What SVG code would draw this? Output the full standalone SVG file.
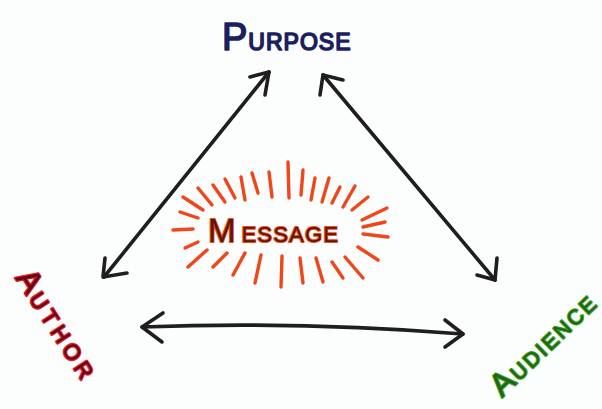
<svg xmlns="http://www.w3.org/2000/svg" width="602" height="409" viewBox="0 0 602 409">
  <defs>
    <style>
      .lbl { font-family: "Liberation Sans", Arial, sans-serif; font-weight: normal; paint-order: stroke; stroke-linejoin: round; }
      .purpose { fill: #1a1f5e; stroke: #1f2568; stroke-width: 1.6; }
      .author { fill: #5e0810; stroke: #e3182c; stroke-width: 2.6; }
      .audience { fill: #1f6412; stroke: #3b9d25; stroke-width: 2.2; }
      .message { fill: #5a1808; stroke: #ee4a18; stroke-width: 2; }
      .conn { fill: none; stroke: #1e1e1e; stroke-width: 3.6; stroke-linecap: round; stroke-linejoin: round; }
      .ray { stroke: #f0461a; stroke-width: 3.4; stroke-linecap: round; }
    </style>
  </defs>
  <rect width="602" height="409" fill="#fcfdfd"/>

  <g id="connectors">
    <path class="conn" d="M104,277 L269,72"/>
    <path class="conn" d="M250,77 L269,72 L265,95"/>
    <path class="conn" d="M105,258 L103,277 L127,273"/>
    <path class="conn" d="M323,75 L495,280"/>
    <path class="conn" d="M343,80 L323,75 L320,95"/>
    <path class="conn" d="M497,258 L495,280 L477,275"/>
    <path class="conn" d="M142,327 Q300,321 463,334"/>
    <path class="conn" d="M163,313 L142,327 L162,342"/>
    <path class="conn" d="M445,320 L463,334 L445,347"/>
  </g>

  <g id="purpose">
    <text class="lbl purpose" x="222" y="50"><tspan font-size="38">P</tspan><tspan font-size="23" dx="1" letter-spacing="1">URPOSE</tspan></text>
  </g>

  <g id="author" transform="translate(15,278) rotate(57)">
    <text class="lbl author" x="0" y="0"><tspan font-size="32" letter-spacing="3">A</tspan><tspan font-size="22" letter-spacing="5">UTHOR</tspan></text>
  </g>

  <g id="audience" transform="translate(502,398) rotate(-44)">
    <text class="lbl audience" x="0" y="0"><tspan font-size="32" letter-spacing="2">A</tspan><tspan font-size="21" letter-spacing="2.5">UDIENCE</tspan></text>
  </g>

  <g id="message">
    <g class="ray">
      <line x1="173" y1="230" x2="193" y2="229"/>
      <line x1="180" y1="212" x2="198" y2="218"/>
      <line x1="183" y1="197" x2="203" y2="210"/>
      <line x1="198" y1="188" x2="212" y2="205"/>
      <line x1="213" y1="185" x2="225" y2="202"/>
      <line x1="225" y1="179" x2="235" y2="198"/>
      <line x1="241" y1="177" x2="245" y2="200"/>
      <line x1="252" y1="173" x2="258" y2="193"/>
      <line x1="269" y1="172" x2="272" y2="197"/>
      <line x1="288" y1="162" x2="289" y2="198"/>
      <line x1="303" y1="170" x2="301" y2="195"/>
      <line x1="315" y1="178" x2="311" y2="200"/>
      <line x1="329" y1="178" x2="322" y2="202"/>
      <line x1="340" y1="187" x2="332" y2="203"/>
      <line x1="355" y1="186" x2="343" y2="207"/>
      <line x1="368" y1="197" x2="352" y2="210"/>
      <line x1="387" y1="208" x2="362" y2="220"/>
      <line x1="385" y1="222" x2="363" y2="227"/>
      <line x1="388" y1="237" x2="363" y2="234"/>
      <line x1="378" y1="260" x2="358" y2="247"/>
      <line x1="185" y1="248" x2="198" y2="242"/>
      <line x1="188" y1="267" x2="207" y2="250"/>
      <line x1="213" y1="267" x2="227" y2="253"/>
      <line x1="233" y1="275" x2="245" y2="253"/>
      <line x1="255" y1="283" x2="261" y2="255"/>
      <line x1="281" y1="287" x2="282" y2="256"/>
      <line x1="300" y1="258" x2="303" y2="283"/>
      <line x1="316" y1="258" x2="323" y2="282"/>
      <line x1="332" y1="262" x2="343" y2="278"/>
      <line x1="345" y1="257" x2="363" y2="278"/>
    </g>
    <text class="lbl message" x="208" y="242"><tspan font-size="33">M</tspan><tspan font-size="22" dx="6" letter-spacing="1.2">ESSAGE</tspan></text>
  </g>
</svg>
